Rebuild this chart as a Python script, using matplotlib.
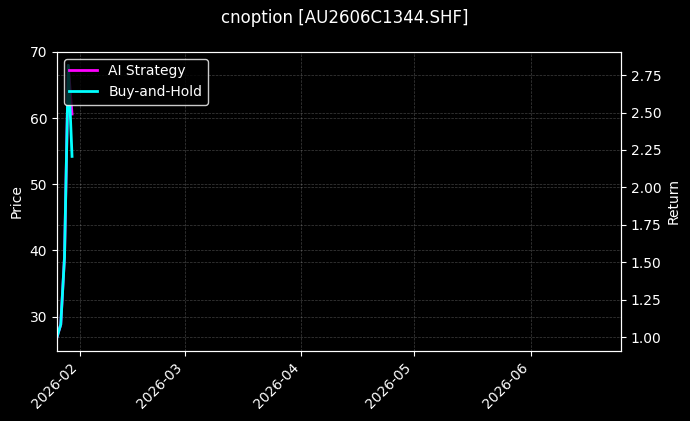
import numpy as np
import pandas as pd
import matplotlib
matplotlib.use('Agg')
import matplotlib.pyplot as plt
import matplotlib.dates as mdates

plt.style.use('dark_background')

dates = pd.to_datetime(['2026-01-26', '2026-01-27', '2026-01-28', '2026-01-29', '2026-01-30'])
expiry = pd.Timestamp('2026-06-25')
price = [26.92, 28.8, 39.0, 67.95, 54.3]
ai_return = [1.0, 1.084, 1.536, 2.815, 2.49]
bh_return = [1.0, 1.084, 1.536, 2.815, 2.207]

fig = plt.figure(figsize=(6.9, 4.21), dpi=100)
ax1 = fig.add_axes([0.0826, 0.167, 0.8174, 0.71])
ax2 = ax1.twinx()

# price only sets the left scale
ax1.plot(dates, price, color='black', alpha=0)
ax1.set_ylabel('Price')
ax1.grid(True, linestyle='--', linewidth=0.5, alpha=0.25)

ax2.plot(dates, ai_return, color='magenta', linewidth=2, label='AI Strategy')
ax2.plot(dates, bh_return, color='cyan', linewidth=2, label='Buy-and-Hold')
ax2.set_ylabel('Return')
ax2.grid(True, linestyle='--', linewidth=0.5, alpha=0.25)

ax1.set_xlim(dates[0], expiry)
ax1.xaxis.set_major_locator(mdates.MonthLocator())
ax1.xaxis.set_major_formatter(mdates.DateFormatter('%Y-%m'))
plt.setp(ax1.get_xticklabels(), rotation=45, ha='right')

ax2.legend(loc='upper left', facecolor='black', edgecolor='white')
fig.suptitle('cnoption [AU2606C1344.SHF]', fontsize=12, y=0.978)

fig.savefig('out.png', dpi=100, facecolor='black')
